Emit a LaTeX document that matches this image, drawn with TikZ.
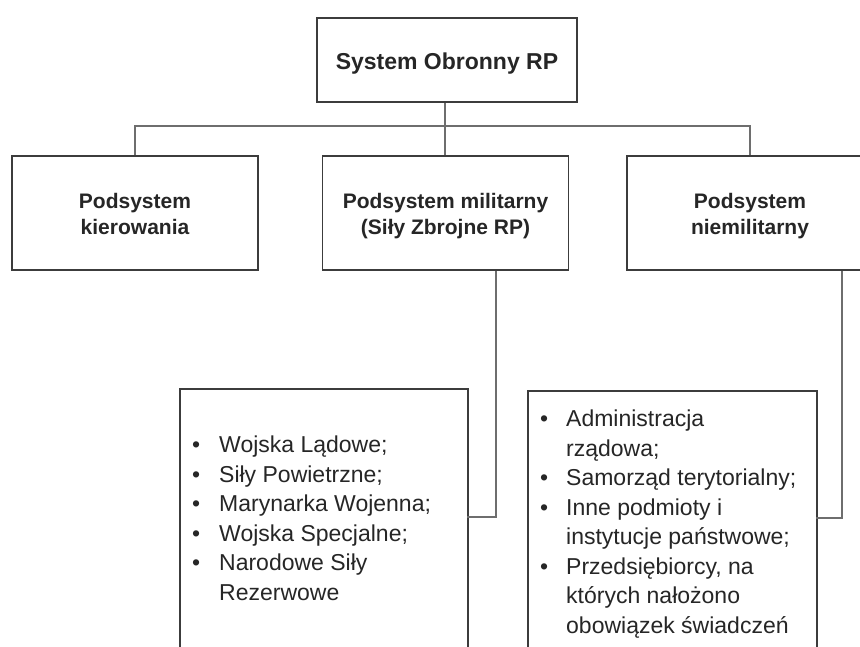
\documentclass[tikz,border=0pt]{standalone}
\usepackage{fontspec}
\setmainfont{Liberation Sans}
\definecolor{boxline}{HTML}{3C3C3C}
\definecolor{conline}{HTML}{6E6E6E}
\definecolor{txt}{HTML}{262626}
\newcommand{\headtxt}[2]{\raisebox{#1}[\height][\depth]{\begin{tabular}{@{}c@{}}#2\end{tabular}}}
\begin{document}
\begin{tikzpicture}[x=1pt,y=-1pt,
  headbox/.style={draw=boxline,line width=1.8pt,inner sep=0pt,align=center,
    text=txt,font=\bfseries\fontsize{21}{26}\selectfont,minimum height=114pt,minimum width=246pt},
  listbox/.style={draw=boxline,line width=1.8pt,inner sep=0pt},
  listtext/.style={anchor=north west,inner sep=0pt,align=left,text=txt,
    font=\fontsize{23}{29.5}\selectfont},
  conn/.style={draw=conline,line width=1.2pt}]
\useasboundingbox (0,0) rectangle (860,646);
\clip (0,0) rectangle (860,646);
\fill[white] (0,0) rectangle (860,646);
% top box
\node[headbox,minimum width=260pt,minimum height=84pt,font=\bfseries\fontsize{23}{27}\selectfont] (top) at (447,60) {\headtxt{-3.6pt}{System Obronny RP}};
% second level
\node[headbox] (left) at (135,213) {\headtxt{-2.8pt}{Podsystem\\kierowania}};
\node[headbox] (mid) at (445.5,213) {\headtxt{-2.8pt}{Podsystem militarny\\(Siły Zbrojne RP)}};
\node[headbox] (right) at (750,213) {\headtxt{-2.8pt}{Podsystem\\niemilitarny}};
% list boxes
\node[listbox,minimum width=288pt,minimum height=300pt,anchor=north west] (llist) at (179,388) {};
\node[listbox,minimum width=289pt,minimum height=300pt,anchor=north west] (rlist) at (527,390) {};
\node[listtext] (ltext) at (192,436) {\makebox[27pt][l]{•}Wojska Lądowe;\\
\makebox[27pt][l]{•}Siły Powietrzne;\\
\makebox[27pt][l]{•}Marynarka Wojenna;\\
\makebox[27pt][l]{•}Wojska Specjalne;\\
\makebox[27pt][l]{•}Narodowe Siły\\
\hspace*{27pt}Rezerwowe};
\node[listtext] (rtext) at (540,410) {\makebox[26pt][l]{•}Administracja\\
\hspace*{26pt}rządowa;\\
\makebox[26pt][l]{•}Samorząd terytorialny;\\
\makebox[26pt][l]{•}Inne podmioty i\\
\hspace*{26pt}instytucje państwowe;\\
\makebox[26pt][l]{•}Przedsiębiorcy, na\\
\hspace*{26pt}których nałożono\\
\hspace*{26pt}obowiązek świadczeń};
% connectors
\coordinate (bus) at (445,126);
\coordinate (ljoin) at (467,517);
\coordinate (rjoin) at (816,518);
\draw[conn] (top.south -| bus) -- (mid.north -| bus);
\draw[conn] (left.north) |- (bus) -| (right.north);
\draw[conn] ([xshift=50.5pt]mid.south) |- (ljoin);
\draw[conn] ([xshift=92pt]right.south) |- (rjoin);
\end{tikzpicture}
\end{document}
